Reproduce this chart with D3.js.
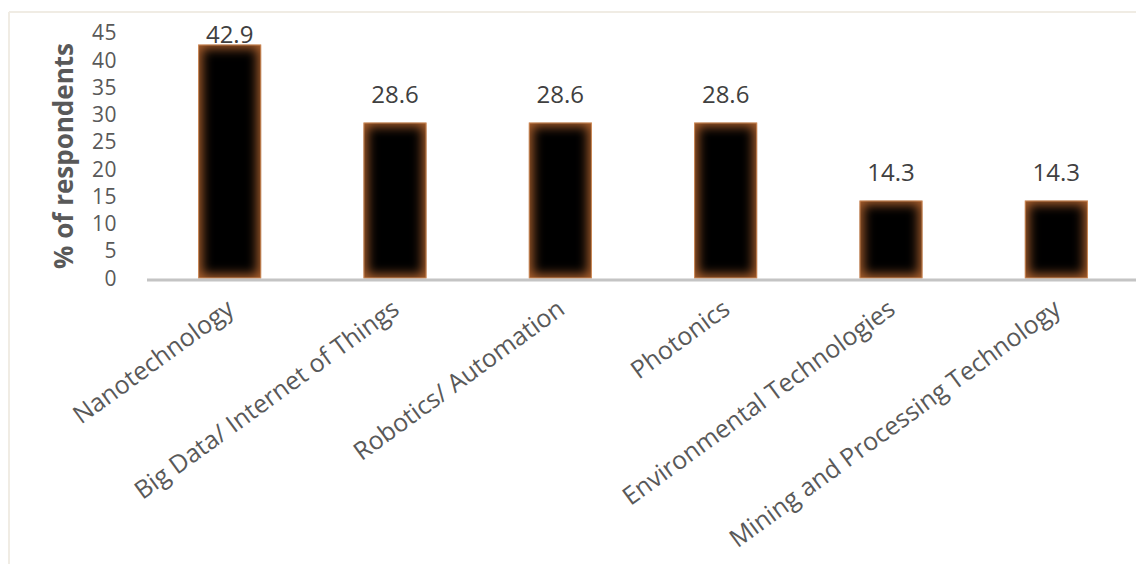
<!DOCTYPE html>
<html>
<head>
<meta charset="utf-8">
<script src="https://cdn.jsdelivr.net/npm/d3@7"></script>
<style>
  html, body { margin: 0; padding: 0; background: #ffffff; }
  svg { display: block; }
  text { font-family: "Open Sans", "DejaVu Sans", sans-serif; }
</style>
</head>
<body>
<svg id="chart" width="1136" height="564"></svg>
<script>
// Share of respondents naming each technology area
const categories = [
  "Nanotechnology",
  "Big Data/ Internet of Things",
  "Robotics/ Automation",
  "Photonics",
  "Environmental Technologies",
  "Mining and Processing Technology"
];
const values = [42.9, 28.6, 28.6, 28.6, 14.3, 14.3];
const yTicks = [0, 5, 10, 15, 20, 25, 30, 35, 40, 45];
const yTitle = "% of respondents";

const svg = d3.select("#chart");
const W = 1136, H = 564;

const x = d3.scaleBand()
  .domain(categories)
  .range([147, 1139])
  .paddingInner(0.618)
  .paddingOuter(0.309);

const y = d3.scaleLinear()
  .domain([0, 45])
  .range([278.5, 33]);

// Thin outer frame (top and left edges)
svg.append("line")
  .attr("x1", 9).attr("x2", W).attr("y1", 12).attr("y2", 12)
  .attr("stroke", "#f0ece4").attr("stroke-width", 2);
svg.append("line")
  .attr("x1", 9).attr("x2", 9).attr("y1", 12).attr("y2", H)
  .attr("stroke", "#f0ece4").attr("stroke-width", 2);

// Soft blur used for the dark core of each bar
const defs = svg.append("defs");
defs.append("filter")
  .attr("id", "core-blur")
  .attr("x", "-30%").attr("y", "-30%").attr("width", "160%").attr("height", "160%")
  .append("feGaussianBlur").attr("stdDeviation", 5.5);

const bars = svg.append("g").attr("class", "bars");
categories.forEach((c, i) => {
  const bx = x(c), bw = x.bandwidth();
  const by = y(values[i]), bh = y(0) - y(values[i]);
  defs.append("clipPath").attr("id", "clip-" + i)
    .append("rect").attr("x", bx).attr("y", by).attr("width", bw).attr("height", bh);
  const g = bars.append("g").attr("clip-path", "url(#clip-" + i + ")");
  g.append("rect")
    .attr("x", bx).attr("y", by).attr("width", bw).attr("height", bh)
    .attr("fill", "#a85e2c");
  g.append("rect")
    .attr("x", bx + 4).attr("y", by + 4)
    .attr("width", Math.max(0, bw - 8)).attr("height", Math.max(0, bh - 8))
    .attr("fill", "#000000")
    .attr("filter", "url(#core-blur)");
  bars.append("rect")
    .attr("x", bx + 0.5).attr("y", by + 0.5).attr("width", bw - 1).attr("height", bh - 1)
    .attr("fill", "none").attr("stroke", "#d89460").attr("stroke-opacity", 0.85).attr("stroke-width", 1);
});

// Category axis line
svg.append("line")
  .attr("x1", 147).attr("x2", W)
  .attr("y1", y(0) + 1.5).attr("y2", y(0) + 1.5)
  .attr("stroke", "#c4c4c4").attr("stroke-width", 3);

// Value axis labels
const yAxis = d3.axisLeft(y).tickValues(yTicks).tickSize(0).tickPadding(0);
const yg = svg.append("g").attr("transform", "translate(117,0)").call(yAxis);
yg.select(".domain").remove();
yg.selectAll("text")
  .attr("fill", "#595959")
  .style("font-size", "21px")
  .style("letter-spacing", "0.5px")
  .style("font-family", "'Open Sans', sans-serif");

// Axis title
svg.append("text")
  .attr("transform", "translate(63,156) rotate(-90)")
  .attr("text-anchor", "middle")
  .attr("dominant-baseline", "central")
  .attr("fill", "#595959")
  .style("font-size", "26px")
  .style("font-weight", "bold")
  .text(yTitle);

// Category labels, rotated
const xAxis = d3.axisBottom(x).tickSize(0).tickPadding(0);
const xg = svg.append("g").attr("transform", "translate(0," + y(0) + ")").call(xAxis);
xg.select(".domain").remove();
xg.selectAll("text")
  .attr("fill", "#595959")
  .attr("text-anchor", "end")
  .attr("dy", null)
  .attr("y", 0)
  .attr("transform", "translate(6,34) rotate(-36)")
  .style("font-size", "25px")
  .style("font-family", "'Open Sans', sans-serif");

// Value labels above bars, held inside the plot area
svg.append("g").selectAll("text")
  .data(values)
  .join("text")
  .attr("x", (d, i) => x(categories[i]) + x.bandwidth() / 2)
  .attr("y", d => Math.max(y(d) - 19, 43))
  .attr("text-anchor", "middle")
  .attr("fill", "#404040")
  .style("font-size", "24px")
  .text(d => d.toFixed(1));
</script>
</body>
</html>
